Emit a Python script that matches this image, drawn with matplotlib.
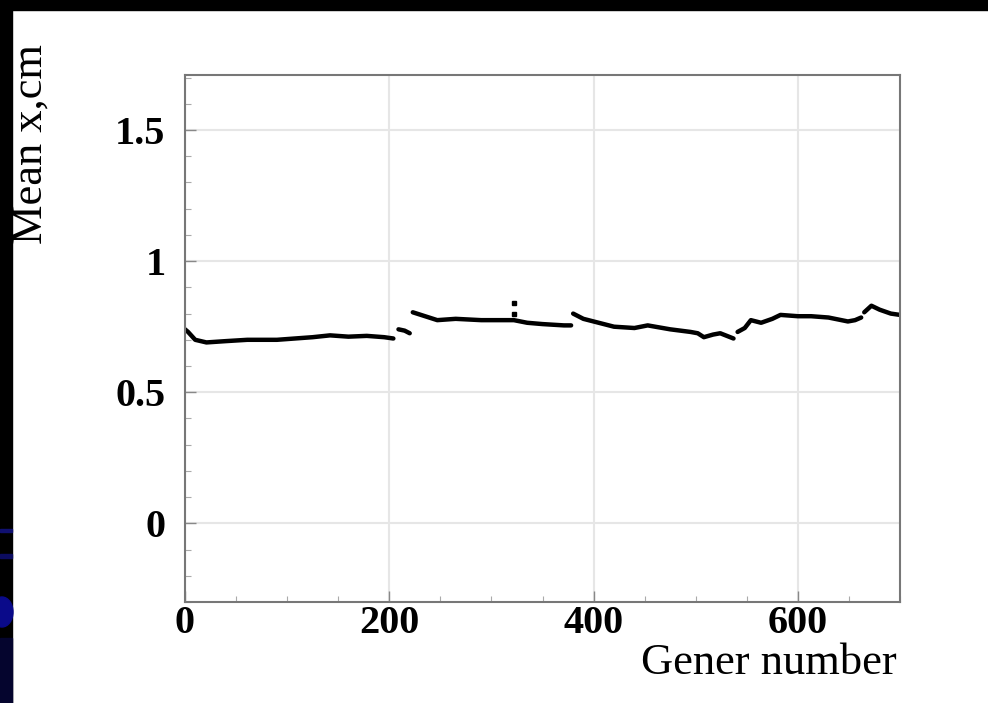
"""
Mean x vs. generation number chart.
"""

import numpy as np
import matplotlib.pyplot as plt
from matplotlib.patches import Rectangle, Ellipse

# segments of the mean x curve (nan marks a break in the line)
gener = [0, 3, 10, 21, 40, 61, 90, 125, 142, 160, 178, 195, 204, np.nan,
         209, 215, 220, np.nan,
         223, 235, 247, 265, 290, 310, 322, 335, 350, 371, 378, np.nan,
         380, 390, 405, 420, 440, 453, 475, 495, 502, 508, 517, 524, 537, np.nan,
         541, 548, 554, 564, 575, 583, 600, 613, 630, 649, 656, 662, np.nan,
         665, 672, 680, 691, 700]
mean_x = [0.74, 0.73, 0.70, 0.69, 0.695, 0.70, 0.70, 0.71, 0.717, 0.712, 0.715, 0.71, 0.705, np.nan,
          0.74, 0.735, 0.725, np.nan,
          0.805, 0.79, 0.775, 0.78, 0.775, 0.775, 0.775, 0.765, 0.76, 0.755, 0.755, np.nan,
          0.80, 0.78, 0.765, 0.75, 0.745, 0.755, 0.74, 0.73, 0.725, 0.71, 0.72, 0.725, 0.705, np.nan,
          0.73, 0.745, 0.775, 0.765, 0.78, 0.795, 0.79, 0.79, 0.785, 0.77, 0.775, 0.785, np.nan,
          0.805, 0.83, 0.815, 0.80, 0.795]
outlier_x = [322, 322]
outlier_y = [0.84, 0.80]

xticks = [0, 200, 400, 600]
yticks = [0, 0.5, 1, 1.5]

plt.rcParams['font.family'] = ['Liberation Serif', 'DejaVu Serif']

fig = plt.figure(figsize=(9.88, 7.03), dpi=100)
ax = fig.add_axes([185 / 988, 1 - 602 / 703, 715 / 988, 527 / 703])

ax.plot(gener, mean_x, color='black', linewidth=3.2, solid_capstyle='round')
ax.plot(outlier_x, outlier_y, 's', color='black', markersize=3)

ax.set_xlim(0, 700)
ax.set_ylim(-0.3, 1.71)
ax.set_xticks(xticks)
ax.set_yticks(yticks)
ax.set_xticklabels([str(t) for t in xticks], fontsize=29, fontweight='bold')
ax.set_yticklabels(['0', '0.5', '1', '1.5'], fontsize=29, fontweight='bold')
ax.set_xticks(np.arange(0, 701, 50), minor=True)
ax.set_yticks(np.arange(-0.3, 1.71, 0.1), minor=True)
ax.tick_params(direction='in', length=8, width=1, color='#888888')
ax.tick_params(axis='x', pad=2)
ax.tick_params(axis='y', pad=14)
ax.tick_params(which='minor', direction='in', length=4, width=0.8, color='#aaaaaa')
ax.grid(True, which='major', color='#e6e6e6', linewidth=1.5)
for s in ax.spines.values():
    s.set_color('#777777')
    s.set_linewidth(1.5)

fig.text(897 / 988, 1 - 663 / 703, 'Gener number', fontsize=32,
         ha='right', va='center')
fig.text(31 / 988, 1 - 44 / 703, 'Mean x,cm', fontsize=32,
         rotation=90, ha='center', va='top')

# slide background: black bands at the top and left edge
fig.patches.append(Rectangle((0, 1 - 10 / 703), 1, 10 / 703, transform=fig.transFigure,
                             color='black', zorder=5))
fig.patches.append(Rectangle((0, 0), 12 / 988, 1, transform=fig.transFigure,
                             color='black', zorder=5))
fig.patches.append(Rectangle((0, 0), 12 / 988, 65 / 703, transform=fig.transFigure,
                             color='#05052e', zorder=6))
fig.patches.append(Ellipse((2 / 988, 1 - 612 / 703), 22 / 988, 30 / 703, transform=fig.transFigure,
                           color='#0a0a8a', zorder=6))
fig.patches.append(Rectangle((0, 1 - 532 / 703), 12 / 988, 3 / 703, transform=fig.transFigure,
                             color='#101070', zorder=6))
fig.patches.append(Rectangle((0, 1 - 558 / 703), 12 / 988, 4 / 703, transform=fig.transFigure,
                             color='#0c0c60', zorder=6))

fig.savefig('out.png', dpi=100)
